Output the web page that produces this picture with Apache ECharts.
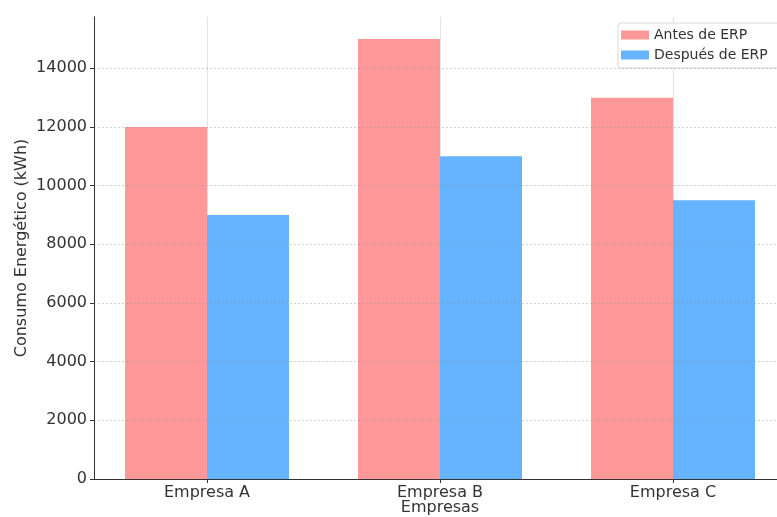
<!DOCTYPE html>
<html>
<head>
<meta charset="utf-8">
<script src="https://cdn.jsdelivr.net/npm/echarts@6/dist/echarts.min.js"></script>
<style>
  html, body { margin: 0; padding: 0; background: #ffffff; }
  #chart { width: 777px; height: 517px; }
</style>
</head>
<body>
<div id="chart"></div>
<script>
// Energy consumption per company, before and after ERP adoption
const empresas = ['Empresa A', 'Empresa B', 'Empresa C'];
const antesERP = [12000, 15000, 13000];
const despuesERP = [9000, 11000, 9500];
const yTicks = [0, 2000, 4000, 6000, 8000, 10000, 12000, 14000];

const FONT = 'DejaVu Sans';
const TEXT = '#333333';

const chart = echarts.init(document.getElementById('chart'), null, { renderer: 'canvas' });

// bars sit on a numeric x scale so the category slots line up with the axis range
const X_MIN = -0.485;
const X_MAX = 2.485;
const PLOT_W = 692;
const slotPx = PLOT_W / (X_MAX - X_MIN);
const barPx = Math.round(0.35 * slotPx);

const toPoints = (vals) => vals.map((v, i) => [i, v]);

chart.setOption({
  animation: false,
  backgroundColor: '#ffffff',
  textStyle: { fontFamily: FONT },
  grid: { left: 94, top: 17, width: PLOT_W, height: 462, containLabel: false, outerBoundsMode: 'none' },
  legend: {
    orient: 'vertical',
    left: 618,
    top: 23,
    itemWidth: 28,
    itemHeight: 9,
    itemGap: 6,
    padding: [5, 30, 6, 3],
    backgroundColor: '#ffffff',
    borderColor: '#d9d9d9',
    borderWidth: 1,
    borderRadius: 3,
    icon: 'rect',
    textStyle: { fontFamily: FONT, fontSize: 14, color: TEXT },
    data: ['Antes de ERP', 'Después de ERP']
  },
  xAxis: {
    type: 'value',
    min: X_MIN,
    max: X_MAX,
    name: 'Empresas',
    nameLocation: 'middle',
    nameGap: 21,
    nameMoveOverlap: false,
    nameTextStyle: { fontFamily: FONT, fontSize: 16, color: TEXT },
    axisLine: { show: true, onZero: false, lineStyle: { color: '#333333', width: 1 } },
    axisTick: { show: true, customValues: [0, 1, 2], length: 4, lineStyle: { color: '#333333' } },
    axisLabel: {
      customValues: [0, 1, 2],
      margin: 6,
      fontFamily: FONT,
      fontSize: 16,
      color: TEXT,
      formatter: (v) => empresas[Math.round(v)] || ''
    },
    splitLine: { show: false }
  },
  yAxis: {
    type: 'value',
    min: 0,
    max: 15750,
    name: 'Consumo Energético (kWh)',
    nameLocation: 'middle',
    nameGap: 64,
    nameMoveOverlap: false,
    nameTextStyle: { fontFamily: FONT, fontSize: 16, color: TEXT },
    axisLine: { show: true, onZero: false, lineStyle: { color: '#333333', width: 1 } },
    axisTick: { show: true, customValues: yTicks, length: 4, lineStyle: { color: '#333333' } },
    axisLabel: {
      customValues: yTicks,
      margin: 7,
      fontFamily: FONT,
      fontSize: 16,
      color: TEXT,
      formatter: (v) => String(v)
    },
    splitLine: { show: false }
  },
  series: [
    {
      // light vertical grid at each company, behind the bars
      name: 'vgrid',
      type: 'line',
      data: [],
      silent: true,
      z: 0,
      markLine: {
        silent: true,
        z: 0,
        symbol: 'none',
        label: { show: false },
        lineStyle: { color: '#e3e3e3', type: 'solid', width: 1 },
        data: [{ xAxis: 0 }, { xAxis: 1 }, { xAxis: 2 }]
      }
    },
    {
      name: 'Antes de ERP',
      type: 'bar',
      data: toPoints(antesERP),
      barWidth: barPx,
      barGap: '0%',
      itemStyle: { color: '#ff9999' },
      z: 2
    },
    {
      name: 'Después de ERP',
      type: 'bar',
      data: toPoints(despuesERP),
      barWidth: barPx,
      barGap: '0%',
      itemStyle: { color: '#66b3ff' },
      z: 2
    },
    {
      // dotted horizontal grid at the labelled ticks, faintly over the bars
      name: 'hgrid',
      type: 'line',
      data: [],
      silent: true,
      z: 3,
      markLine: {
        silent: true,
        symbol: 'none',
        label: { show: false },
        lineStyle: { color: 'rgba(140,140,140,0.4)', type: [2, 2], width: 1 },
        data: yTicks.filter((t) => t > 0).map((t) => ({ yAxis: t }))
      }
    }
  ]
});
</script>
</body>
</html>
